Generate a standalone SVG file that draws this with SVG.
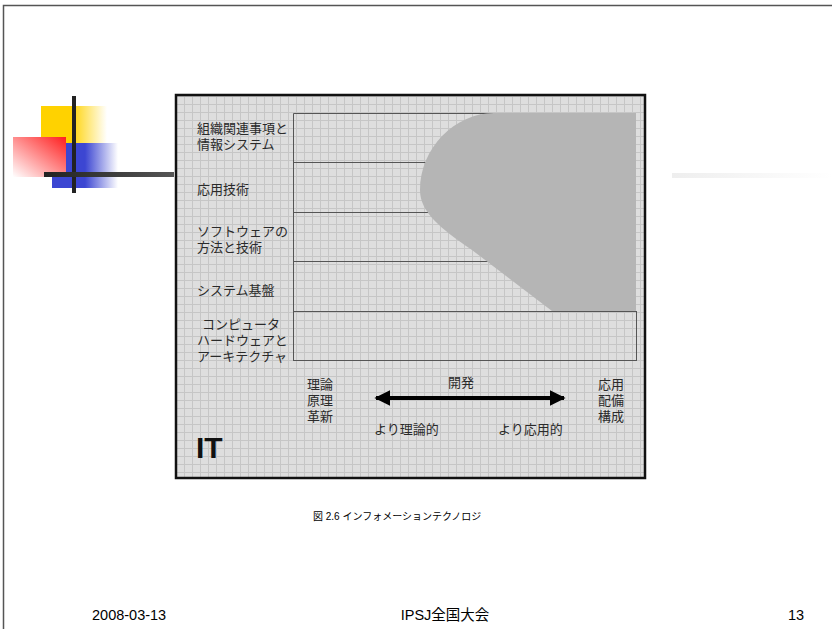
<svg xmlns="http://www.w3.org/2000/svg" width="832" height="629" viewBox="0 0 832 629">
<style>
.t{font-family:"Liberation Sans","Noto Sans CJK JP",sans-serif;font-size:13px;fill:#2a2a2a}
.f{font-family:"Liberation Sans","Noto Sans CJK JP",sans-serif;font-size:14.5px;fill:#000}
.row{fill:none;stroke:#555;stroke-width:1}
</style>
<defs>
<pattern id="grid" x="0" y="0" width="8" height="8" patternUnits="userSpaceOnUse">
<rect width="8" height="8" fill="#dedede"/>
<path d="M0 0.5H8M0.5 0V8" stroke="#c6c6c6" stroke-width="1"/>
</pattern>
<linearGradient id="gy" x1="0" x2="1" y1="0" y2="0"><stop offset="0.45" stop-color="#ffd200"/><stop offset="1" stop-color="#ffd200" stop-opacity="0"/></linearGradient>
<linearGradient id="gb" x1="0" x2="1" y1="0" y2="0"><stop offset="0.5" stop-color="#3c46d2"/><stop offset="1" stop-color="#3c46d2" stop-opacity="0"/></linearGradient>
<linearGradient id="gr" x1="1" x2="0" y1="0" y2="1"><stop offset="0" stop-color="#ff1e1e"/><stop offset="1" stop-color="#ff1e1e" stop-opacity="0"/></linearGradient>
<linearGradient id="gh" x1="0" x2="1" y1="0" y2="0"><stop offset="0" stop-color="#222"/><stop offset="1" stop-color="#555"/></linearGradient>
<linearGradient id="gl" x1="0" x2="1" y1="0" y2="0"><stop offset="0" stop-color="#eee"/><stop offset="1" stop-color="#fff"/></linearGradient>
<marker id="ah" viewBox="0 0 10 10" refX="9" refY="5" markerWidth="4" markerHeight="4" orient="auto-start-reverse"><path d="M0 0L10 5L0 10Z" fill="#000"/></marker>
</defs>
<rect width="832" height="629" fill="#fff"/>
<path d="M3.5 629V5.5H832" fill="none" stroke="#555" stroke-width="1.5"/>
<g id="deco">
<rect x="41" y="106" width="66" height="37" fill="url(#gy)"/>
<rect x="52" y="143" width="66" height="45" fill="url(#gb)"/>
<rect x="13" y="137" width="53" height="40" fill="#fff"/>
<rect x="13" y="137" width="53" height="40" fill="url(#gr)"/>
<rect x="72" y="96" width="4" height="97" fill="#222"/>
<rect x="44" y="172" width="130" height="5" fill="url(#gh)"/>
<rect x="672" y="173" width="160" height="5" fill="url(#gl)"/>
</g>
<g id="figure">
<rect x="176" y="95" width="469" height="383" fill="url(#grid)" stroke="#111" stroke-width="2.5"/>
<g id="rows">
<path class="row" d="M293.5 113.5H500M293.5 162.5H500M293.5 212.5H500M293.5 261.5H560M293.5 113.5V360.5"/>
<rect class="row" x="293.5" y="311.5" width="343" height="49"/>
</g>
<path id="blob" d="M494 113H636V311H552L472 250C440 228 420 212 420 190C420 148 455 113 494 113Z" fill="#b5b5b5"/>
<g id="labels">
<text class="t" x="197" y="133">組織関連事項と</text>
<text class="t" x="197" y="149">情報システム</text>
<text class="t" x="197" y="194">応用技術</text>
<text class="t" x="197" y="236">ソフトウェアの</text>
<text class="t" x="197" y="252">方法と技術</text>
<text class="t" x="197" y="295">システム基盤</text>
<text class="t" x="202" y="329">コンピュータ</text>
<text class="t" x="197" y="345">ハードウェアと</text>
<text class="t" x="197" y="361">アーキテクチャ</text>
</g>
<g id="axis">
<text class="t" x="307" y="389">理論</text>
<text class="t" x="307" y="405">原理</text>
<text class="t" x="307" y="421">革新</text>
<text class="t" x="448" y="387">開発</text>
<text class="t" x="598" y="389">応用</text>
<text class="t" x="598" y="405">配備</text>
<text class="t" x="598" y="421">構成</text>
<text class="t" x="374" y="434">より理論的</text>
<text class="t" x="498" y="434">より応用的</text>
</g>
<g id="connectors">
<line x1="376" y1="398" x2="564" y2="398" stroke="#000" stroke-width="4" marker-start="url(#ah)" marker-end="url(#ah)"/>
</g>
<text x="196" y="458" font-family="Liberation Sans, sans-serif" font-size="30" font-weight="bold" fill="#111">IT</text>
</g>
<text x="313" y="520" font-family="Liberation Sans, 'Noto Sans CJK JP', sans-serif" font-size="10" fill="#000">図 2.6  インフォメーションテクノロジ</text>
<g id="footer">
<text class="f" x="92" y="620">2008-03-13</text>
<text class="f" x="445" y="620" text-anchor="middle">IPSJ全国大会</text>
<text class="f" x="788" y="620">13</text>
</g>
</svg>
